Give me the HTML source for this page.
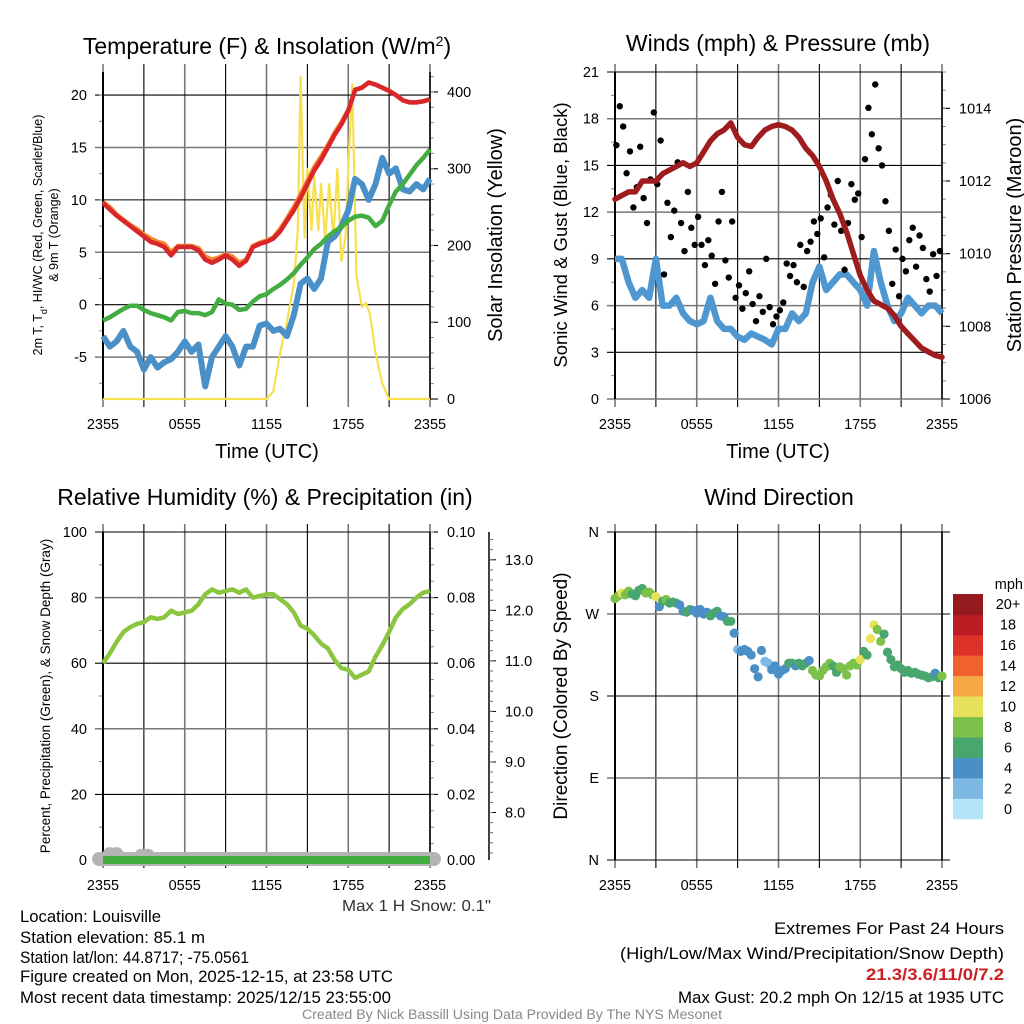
<!DOCTYPE html>
<html><head><meta charset="utf-8">
<style>
html,body{margin:0;padding:0;background:#fff;}
svg{display:block;font-family:"Liberation Sans",sans-serif;}
</style></head>
<body>
<svg id="chart" width="1024" height="1024" viewBox="0 0 1024 1024" xmlns="http://www.w3.org/2000/svg">
<rect width="1024" height="1024" fill="#fff"/>
<g id="layer"></g>
<text x="267" y="54" font-size="23" text-anchor="middle">Temperature (F) &amp; Insolation (W/m<tspan baseline-shift="super" font-size="14">2</tspan>)</text>
<text x="778" y="51" font-size="23" text-anchor="middle">Winds (mph) &amp; Pressure (mb)</text>
<text x="265" y="505" font-size="23" text-anchor="middle">Relative Humidity (%) &amp; Precipitation (in)</text>
<text x="779" y="505" font-size="23" text-anchor="middle">Wind Direction</text>

<text x="267" y="458" font-size="20" text-anchor="middle">Time (UTC)</text>
<text x="778" y="458" font-size="20" text-anchor="middle">Time (UTC)</text>

<text transform="translate(42,235) rotate(-90)" font-size="12.5" text-anchor="middle">2m T, T<tspan baseline-shift="sub" font-size="9">d</tspan>, HI/WC (Red, Green, Scarlet/Blue)</text>
<text transform="translate(58,235) rotate(-90)" font-size="12.5" text-anchor="middle">&amp; 9m T (Orange)</text>
<text transform="translate(502,235) rotate(-90)" font-size="20" text-anchor="middle">Solar Insolation (Yellow)</text>
<text transform="translate(567,235) rotate(-90)" font-size="18.5" text-anchor="middle">Sonic Wind &amp; Gust (Blue, Black)</text>
<text transform="translate(1021,235) rotate(-90)" font-size="20" text-anchor="middle">Station Pressure (Maroon)</text>
<text transform="translate(50,696) rotate(-90)" font-size="13.5" text-anchor="middle">Percent, Precipitation (Green), &amp; Snow Depth (Gray)</text>
<text transform="translate(567,696) rotate(-90)" font-size="19" text-anchor="middle">Direction (Colored By Speed)</text>

<text x="342" y="911" font-size="16" textLength="149" lengthAdjust="spacingAndGlyphs" fill="#333">Max 1 H Snow: 0.1"</text>
<g font-size="16.5">
<text x="20" y="922" textLength="141" lengthAdjust="spacingAndGlyphs">Location: Louisville</text>
<text x="20" y="943" textLength="185" lengthAdjust="spacingAndGlyphs">Station elevation: 85.1 m</text>
<text x="20" y="963" textLength="229" lengthAdjust="spacingAndGlyphs">Station lat/lon: 44.8717; -75.0561</text>
<text x="20" y="982" textLength="373" lengthAdjust="spacingAndGlyphs">Figure created on Mon, 2025-12-15, at 23:58 UTC</text>
<text x="20" y="1003" textLength="371" lengthAdjust="spacingAndGlyphs">Most recent data timestamp: 2025/12/15 23:55:00</text>
</g>
<g font-size="17">
<text x="774" y="934" textLength="230" lengthAdjust="spacingAndGlyphs">Extremes For Past 24 Hours</text>
<text x="620" y="959" textLength="384" lengthAdjust="spacingAndGlyphs">(High/Low/Max Wind/Precipitation/Snow Depth)</text>
<text x="866" y="980" textLength="138" lengthAdjust="spacingAndGlyphs" fill="#cc1f24" font-weight="bold">21.3/3.6/11/0/7.2</text>
<text x="678" y="1003" textLength="326" lengthAdjust="spacingAndGlyphs">Max Gust: 20.2 mph On 12/15 at 1935 UTC</text>
</g>
<text x="302" y="1019" font-size="13.5" textLength="420" lengthAdjust="spacingAndGlyphs" fill="#888">Created By Nick Bassill Using Data Provided By The NYS Mesonet</text>
</svg>
<script>
// ---------- data ----------
const halfHours = [0,0.5,1,1.5,2,2.5,3,3.5,4,4.5,5,5.5,6,6.5,7,7.5,8,8.5,9,9.5,10,10.5,11,11.5,12,12.5,13,13.5,14,14.5,15,15.5,16,16.5,17,17.5,18,18.5,19,19.5,20,20.5,21,21.5,22,22.5,23,23.5,24];
const timeTickLabels = ["2355","0555","1155","1755","2355"];
const tempRed = [9.7,9.1,8.5,8.0,7.5,7.0,6.5,6.0,5.8,5.5,4.7,5.5,5.5,5.5,5.2,4.3,4.0,4.3,4.7,4.3,3.7,4.2,5.5,5.8,6.0,6.3,7.0,8.0,9.0,10.2,11.5,12.8,13.8,15.0,16.2,17.2,18.5,20.5,20.7,21.2,21.0,20.7,20.4,20.0,19.5,19.3,19.3,19.4,19.6];
const temp9mOrange = [9.8,9.3,8.6,8.1,7.6,7.2,6.7,6.3,6.0,5.8,5.0,5.6,5.6,5.6,5.4,4.6,4.3,4.5,4.8,4.6,4.0,4.3,5.6,5.9,6.1,6.4,7.2,8.2,9.3,10.5,11.8,13.1,14.1,15.2,16.4,17.4,18.6,20.5,20.7,21.2,21.0,20.7,20.4,20.0,19.5,19.3,19.3,19.4,19.6];
const dewGreen = [-1.5,-1.2,-0.8,-0.4,-0.1,-0.1,-0.5,-0.8,-1.0,-1.2,-1.5,-0.7,-0.6,-0.8,-0.8,-1.0,-0.7,0.5,0.1,0,-0.5,-0.4,0.3,0.8,1.0,1.5,1.9,2.4,3.0,3.8,4.5,5.3,5.8,6.5,7.0,7.4,8.0,8.4,8.5,8.3,7.5,8.0,9.5,10.8,11.5,12.4,13.3,14.0,14.8];
const windChillBlue = [-3,-4,-3.5,-2.5,-4,-4.5,-6.2,-5,-6,-5.5,-5.2,-4.5,-3.5,-4.5,-3.8,-7.8,-5,-4,-3,-4,-5.8,-4,-4,-2,-1.8,-2.5,-2.3,-3,-1,2,2.5,1.5,2.5,6,6.5,7.5,9,12,11.5,10,11.5,14,12.5,13,11,10.8,11.5,11,12];
const solarHours = [0,12,12.5,13,13.5,14,14.3,14.5,14.8,15.0,15.3,15.5,15.8,16.0,16.3,16.6,16.9,17.2,17.5,17.8,18.0,18.3,18.6,19.0,19.3,19.6,20.0,20.5,21,24];
const solarValues = [0,0,10,60,100,150,220,420,210,300,220,290,220,280,210,280,210,300,180,210,300,410,160,120,125,110,60,20,0,0];
const windSpeedBlue = [9,9,7.5,6.5,7,6.5,9,6,6,6.5,5.5,5,4.8,5,6.5,5,4.5,4.5,4,3.8,4.2,4,3.8,3.5,4.5,4.5,5.5,5,5.5,7.5,8.5,7,7.5,8,8,7.5,7,6,9.5,7.5,6,5,5.5,6.5,6,5.5,6,6,5.5];
const pressureMaroon = [1011.5,1011.6,1011.7,1011.7,1012.0,1012.0,1012.0,1012.2,1012.3,1012.4,1012.5,1012.4,1012.5,1012.8,1013.1,1013.3,1013.4,1013.6,1013.2,1013.0,1012.95,1013.2,1013.4,1013.5,1013.55,1013.5,1013.4,1013.2,1012.9,1012.7,1012.4,1012.0,1011.5,1011.1,1010.6,1010.0,1009.4,1009.0,1008.7,1008.6,1008.5,1008.3,1008.0,1007.8,1007.6,1007.4,1007.3,1007.2,1007.15];
const gustHours = [0.1,0.35,0.6,0.85,1.1,1.35,1.6,1.85,2.1,2.35,2.6,2.85,3.1,3.35,3.6,3.85,4.1,4.35,4.6,4.85,5.1,5.35,5.6,5.85,6.1,6.35,6.6,6.85,7.1,7.35,7.6,7.85,8.1,8.35,8.6,8.85,9.1,9.35,9.6,9.85,10.1,10.35,10.6,10.85,11.1,11.35,11.6,11.85,12.1,12.35,12.6,12.85,13.1,13.35,13.6,13.85,14.1,14.35,14.6,14.85,15.1,15.35,15.6,15.85,16.1,16.35,16.6,16.85,17.1,17.35,17.6,17.85,18.1,18.35,18.6,18.85,19.1,19.35,19.6,19.85,20.1,20.35,20.6,20.85,21.1,21.35,21.6,21.85,22.1,22.35,22.6,22.85,23.1,23.35,23.6,23.85];
const gustValues = [16.3,18.8,17.5,14.5,15.9,12.3,13.6,16.2,12.9,11.3,14.1,18.4,13.8,16.6,8.0,12.6,10.4,12.1,15.2,11.3,9.5,13.3,11.0,9.9,11.7,9.9,8.6,10.2,9.2,7.4,11.4,13.3,8.9,7.8,11.4,6.5,7.3,5.8,6.8,8.2,6.1,5.0,6.6,5.6,9.0,5.9,4.8,5.3,5.7,6.2,8.7,7.9,8.6,7.5,9.9,7.2,9.5,10.1,11.4,10.6,11.6,9.1,12.3,13.1,11.2,14.0,10.8,8.3,11.3,13.8,12.8,13.2,10.4,15.4,18.7,17.0,20.2,16.1,15.0,12.7,10.8,7.4,9.6,6.6,9.0,8.2,10.2,11.0,8.5,10.5,9.7,7.7,6.9,9.3,7.9,9.5];
const rhValues = [60,63,66.5,69.5,71,72,72.5,74,73.5,74,76,75,75.5,76,78,81,82.5,81.5,82,82.5,81.5,82.5,80,80.5,81,81,79.5,78,75.5,71.5,70.5,68.5,66,64.5,61,58.5,58,55.5,56.5,57.5,62,65.5,69.5,74,76.5,78,80,81.5,82];
const precipHours = [0,24];
const precipValues = [0,0];
const snowBlobHours = [0.5,1.0,2.8,3.3];
const snowBlobValues = [1.5,1.5,1.0,1.0];
const dirHours = [0,0.25,0.5,0.75,1,1.25,1.5,1.75,2,2.25,2.5,2.75,3,3.25,3.5,3.75,4,4.25,4.5,4.75,5,5.25,5.5,5.75,6,6.25,6.5,6.75,7,7.25,7.5,7.75,8,8.25,8.5,8.75,9,9.25,9.5,9.75,10,10.25,10.5,10.75,11,11.25,11.5,11.75,12,12.25,12.5,12.75,13,13.25,13.5,13.75,14,14.25,14.5,14.75,15,15.25,15.5,15.75,16,16.25,16.5,16.75,17,17.25,17.5,17.75,18,18.25,18.5,18.75,19,19.25,19.5,19.75,20,20.25,20.5,20.75,21,21.25,21.5,21.75,22,22.25,22.5,22.75,23,23.25,23.5,23.75,24];
const dirDegrees = [287,290,293,291,295,292,290,296,298,293,294,291,289,278,284,286,282,283,282,280,273,272,275,274,271,275,270,272,268,271,273,268,267,262,262,249,231,229,231,229,225,210,201,230,218,216,209,213,204,208,210,216,216,213,216,213,216,219,208,203,202,208,212,216,213,206,212,210,203,213,216,214,220,229,225,243,258,253,240,248,228,220,212,214,210,206,208,205,206,204,203,202,200,201,205,200,202];
const dirSpeeds = [8,8,10,8,7,6,6,6,6,8,8,8,10,4,6,8,6,6,6,4,4,6,6,4,4,4,4,4,6,6,6,4,4,6,6,4,2,4,4,4,4,4,4,4,2,2,4,4,4,4,4,6,6,4,6,6,6,4,8,8,8,8,8,8,6,6,8,8,8,8,8,8,10,6,6,10,10,8,8,6,6,6,6,6,6,6,6,6,6,6,6,6,6,6,4,6,8];
const speedBinLabels = ["0","2","4","6","8","10","12","14","16","18","20+"];
const speedBinColors = ["#b5e3f8","#7db8e3","#4a8fc6","#4aa66f","#7dc04a","#e6e25a","#f6a945","#ef612d","#dd3229","#ba1c24","#941a1d"];

// ---------- helpers ----------
const NS="http://www.w3.org/2000/svg";
const layer=document.getElementById('layer');
function mk(tag,attrs,parent){const e=document.createElementNS(NS,tag);for(const k in attrs)e.setAttribute(k,attrs[k]);(parent||layer).appendChild(e);return e;}
function lin(d0,d1,r0,r1){return v=>r0+(v-d0)/(d1-d0)*(r1-r0);}

function panelGrid(g,x0,x1,y0,y1,yTicks,yScale,yLabels,rightTicks,rScale,rLabels,yMinor,rMinor,xLabels){
  const xs=lin(0,24,x0,x1);
  for(let i=0;i<=8;i++){
    const h=i*3,x=xs(h),lab=(i%2===0);
    const l=mk('line',{x1:x,x2:x,y1:y0-8,y2:y1+8,stroke:lab?'#777':'#000','stroke-width':lab?1.6:1.1},g);
    
    
    if(lab&&xLabels){const t=mk('text',{x:x,y:y1+30,'font-size':14.5,'text-anchor':'middle'},g);t.textContent=xLabels[i/2];
      
      }
  }
  yTicks.forEach((v,i)=>{const y=yScale(v);
    const l=mk('line',{x1:x0-8,x2:x1,y1:y,y2:y,stroke:i%2?'#777':'#000','stroke-width':i%2?1.5:1.1},g);
    
    
    const t=mk('text',{x:x0-16,y:y+5,'font-size':14.5,'text-anchor':'end'},g);t.textContent=yLabels[i];
    
    });
  yMinor.forEach(v=>{const y=yScale(v);mk('line',{x1:x0-4,x2:x0,y1:y,y2:y,stroke:'#888','stroke-width':1},g);});
  if(rightTicks){
    rightTicks.forEach((v,i)=>{const y=rScale(v);mk('line',{x1:x1,x2:x1+8,y1:y,y2:y,stroke:'#000','stroke-width':1.1},g);
      const t=mk('text',{x:x1+17,y:y+5,'font-size':14.5},g);t.textContent=rLabels[i];
      
      });
    rMinor.forEach(v=>{const y=rScale(v);mk('line',{x1:x1,x2:x1+4,y1:y,y2:y,stroke:'#888','stroke-width':1},g);});
  }
  mk('line',{x1:x0,x2:x0,y1:y0,y2:y1,stroke:'#000','stroke-width':2},g);
  mk('line',{x1:x1,x2:x1,y1:y0,y2:y1,stroke:'#000','stroke-width':1.5},g);
  return xs;
}
function path(xs,ys,hours,vals){return hours.map((h,i)=>(i?'L':'M')+xs(h).toFixed(1)+','+ys(vals[i]).toFixed(1)).join('');}
function range(a,b,s){const r=[];for(let v=a;v<=b+1e-9;v+=s)r.push(+v.toFixed(3));return r;}

// ---------- panel 1: temperature ----------
(function(){
  const g=mk('g',{});
  
  
  const x0=103,x1=430,y0=72,y1=399;
  const ys=lin(-9,22.2,y1,y0), rs=lin(0,426,y1,y0);
  const yt=[20,15,10,5,0,-5];
  const xs=panelGrid(g,x0,x1,y0,y1,yt,ys,yt.map(String),[0,100,200,300,400],rs,["0","100","200","300","400"],range(-7.5,22,2.5),range(20,420,20),timeTickLabels);
  let p;
  p=mk('path',{d:path(xs,rs,solarHours,solarValues),fill:'none',stroke:'#f7df4e','stroke-width':2.2,'stroke-linejoin':'round'},g);
  
  
  p=mk('path',{d:path(xs,ys,halfHours,windChillBlue),fill:'none',stroke:'#4a90c8','stroke-width':6,'stroke-linejoin':'round'},g);
  
  
  p=mk('path',{d:path(xs,ys,halfHours,dewGreen),fill:'none',stroke:'#43ad41','stroke-width':4.5,'stroke-linejoin':'round'},g);
  
  
  p=mk('path',{d:path(xs,ys,halfHours,temp9mOrange),fill:'none',stroke:'#f3862e','stroke-width':4.5,'stroke-linejoin':'round'},g);
  
  
  p=mk('path',{d:path(xs,ys,halfHours,tempRed),fill:'none',stroke:'#d8262a','stroke-width':4.5,'stroke-linejoin':'round'},g);
  
  
})();

// ---------- panel 2: winds ----------
(function(){
  const g=mk('g',{});
  
  
  const x0=615,x1=942,y0=72,y1=399;
  const ys=lin(0,21,y1,y0), rs=lin(1006,1015,y1,y0);
  const yt=[21,18,15,12,9,6,3,0];
  const xs=panelGrid(g,x0,x1,y0,y1,yt,ys,yt.map(String),[1006,1008,1010,1012,1014],rs,["1006","1008","1010","1012","1014"],range(1.5,19.5,3),range(1006.5,1015,0.5),timeTickLabels);
  let p=mk('path',{d:path(xs,ys,halfHours,windSpeedBlue),fill:'none',stroke:'#4f97d0','stroke-width':6.5,'stroke-linejoin':'round'},g);
  
  
  gustHours.forEach((h,i)=>{const c=mk('circle',{cx:xs(h),cy:ys(gustValues[i]),r:3.2,fill:'#000'},g);
    
    });
  p=mk('path',{d:path(xs,rs,halfHours,pressureMaroon),fill:'none',stroke:'#9e1b1e','stroke-width':5.5,'stroke-linejoin':'round','stroke-linecap':'round'},g);
  
  
})();

// ---------- panel 3: RH ----------
(function(){
  const g=mk('g',{});
  
  
  const x0=103,x1=430,y0=532,y1=860;
  const ys=lin(0,100,y1,y0), rs=lin(0,0.1,y1,y0);
  const yt=[100,80,60,40,20,0];
  const xs=panelGrid(g,x0,x1,y0,y1,yt,ys,yt.map(String),[0,0.02,0.04,0.06,0.08,0.1],rs,["0.00","0.02","0.04","0.06","0.08","0.10"],range(10,90,20),range(0.005,0.1,0.005),timeTickLabels);
  const ss=lin(7.06,13.55,y1,y0);
  mk('line',{x1:489,x2:489,y1:y0,y2:y1,stroke:'#000','stroke-width':1.5},g);
  [8,9,10,11,12,13].forEach(v=>{const y=ss(v);mk('line',{x1:489,x2:496,y1:y,y2:y,stroke:'#000'},g);
    const t=mk('text',{x:505,y:y+5,'font-size':14.5},g);t.textContent=v.toFixed(1);
    
    });
  range(7.2,13.4,0.2).forEach(v=>{const y=ss(v);mk('line',{x1:489,x2:493,y1:y,y2:y,stroke:'#666'},g);});
  let p=mk('line',{x1:x0-4,x2:x1+4,y1:y1-1,y2:y1-1,stroke:'#b4b4b4','stroke-width':14,'stroke-linecap':'round'},g);
  
  
  snowBlobHours.forEach((h,i)=>{const c=mk('circle',{cx:xs(h),cy:ys(snowBlobValues[i])-1,r:7,fill:'#b4b4b4'},g);
    
    });
  p=mk('path',{d:path(xs,rs,precipHours,precipValues),fill:'none',stroke:'#43ad41','stroke-width':8},g);
  
  
  p=mk('path',{d:path(xs,ys,halfHours,rhValues),fill:'none',stroke:'#8cc641','stroke-width':4.5,'stroke-linejoin':'round'},g);
  
  
})();

// ---------- panel 4: wind direction ----------
(function(){
  const g=mk('g',{});
  
  
  const x0=615,x1=942,y0=532,y1=860;
  const ys=lin(0,360,y1,y0);
  const yt=[360,270,180,90,0];
  const xs=panelGrid(g,x0,x1,y0,y1,yt,ys,["N","W","S","E","N"],null,null,null,[],null,timeTickLabels);
  yt.forEach(v=>{mk('line',{x1:x1,x2:x1+8,y1:ys(v),y2:ys(v),stroke:'#000'},g);});
  dirHours.forEach((h,i)=>{const c=mk('circle',{cx:xs(h),cy:ys(dirDegrees[i]),r:4.6,fill:speedBinColors[Math.min(10,Math.round(dirSpeeds[i]/2))]},g);
    
    });
  const lg=mk('g',{},g);
  
  
  const t0=mk('text',{x:1023,y:589,'font-size':14.5,'text-anchor':'end'},lg);t0.textContent='mph';
  
  
  const bh=(819-594)/11;
  speedBinLabels.forEach((lab,i)=>{const yb=819-(i+1)*bh;
    const r=mk('rect',{x:953,y:yb,width:30,height:bh+0.3,fill:speedBinColors[i]},lg);
    
    
    const t=mk('text',{x:1008,y:yb+bh/2+5,'font-size':14.5,'text-anchor':'middle'},lg);t.textContent=lab;
    
    });
})();
</script>
</body></html>
